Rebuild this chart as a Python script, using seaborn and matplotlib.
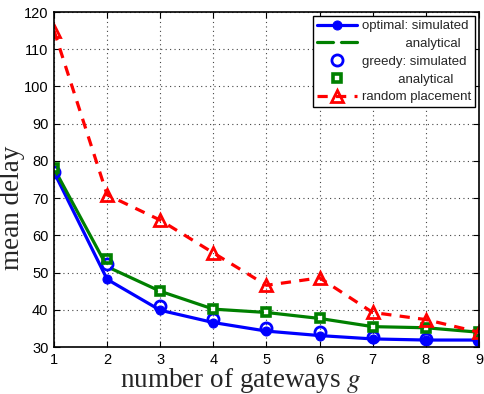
import matplotlib
matplotlib.use("Agg")
import matplotlib.pyplot as plt
import seaborn as sns

g = [1, 2, 3, 4, 5, 6, 7, 8, 9]
opt_sim = [77.0, 48.2, 39.9, 36.6, 34.3, 33.1, 32.2, 31.9, 31.9]
opt_ana = [78.0, 51.6, 45.0, 40.2, 39.3, 37.7, 35.5, 35.2, 34.0]
greedy_sim = [77.0, 52.3, 41.1, 37.5, 35.2, 34.0, 32.6, 32.3, 32.0]
greedy_ana = [78.0, 53.6, 45.0, 40.2, 39.3, 37.7, 35.5, 35.2, 34.0]
random_pl = [115.0, 70.9, 64.1, 55.3, 46.6, 48.6, 39.3, 37.4, 34.0]
labels = ["optimal: simulated", "analytical", "greedy: simulated", "analytical", "random placement"]

sns.set_theme(style="ticks")
plt.rcParams['font.family'] = ['Liberation Sans', 'DejaVu Sans']
plt.rcParams['mathtext.fontset'] = 'stix'

fig = plt.figure(figsize=(4.84, 3.94), dpi=100)
ax = fig.add_axes([0.1116, 0.119, 0.878, 0.8505])

lw = 2.3
sns.lineplot(x=g, y=opt_sim, ax=ax, color='#0000ff', lw=lw, marker='o', ms=6.5,
             mec='#0000ff', label=labels[0])
sns.lineplot(x=g, y=opt_ana, ax=ax, color='#008000', lw=lw, marker='x', ms=5, mew=2,
             label='            ' + labels[1])
sns.lineplot(x=g, y=greedy_sim, ax=ax, color='#0000ff', lw=0, linestyle='None', marker='o',
             ms=8, mfc='none', mec='#0000ff', mew=2, label=labels[2])
sns.lineplot(x=g, y=greedy_ana, ax=ax, color='#008000', lw=0, linestyle='None', marker='s',
             ms=6, mfc='none', mec='#008000', mew=2.6, label='          ' + labels[3])
sns.lineplot(x=g, y=random_pl, ax=ax, color='#ff0000', lw=lw, linestyle=(0, (3.2, 2.6)),
             marker='^', ms=9, mfc='none', mec='#ff0000', mew=2, label=labels[4])

ax.set_xlim(1, 9)
ax.set_ylim(30, 120)
ax.set_xticks(g)
ax.set_yticks(range(30, 121, 10))
ax.grid(True, linestyle=(0, (1, 3)), color='#444444', lw=0.8)
for s in ax.spines.values():
    s.set_visible(True)
    s.set_color('black')
    s.set_linewidth(1.2)
ax.tick_params(direction='in', length=4, width=0.8, labelsize=10.5, colors='black',
               top=True, right=True, pad=4)
for t in ax.get_xticklabels() + ax.get_yticklabels():
    t.set_color('black')

ax.set_xlabel("number of gateways $g$", fontsize=19.5, family=['Liberation Serif'])
ax.set_ylabel("mean delay", fontsize=19.5, family=['Liberation Serif'])
ax.xaxis.label.set_math_fontfamily('stix')
ax.xaxis.set_label_coords(0.44, -0.055)
ax.yaxis.set_label_coords(-0.068, 0.415)

leg = ax.legend(loc='upper right', fontsize=9.5, frameon=True, fancybox=False,
                edgecolor='black', framealpha=1, borderpad=0.3, labelspacing=0.42,
                handlelength=3.0, handletextpad=0.4, borderaxespad=0.3)
leg.get_frame().set_linewidth(1.0)

fig.savefig("out.png", dpi=100)
